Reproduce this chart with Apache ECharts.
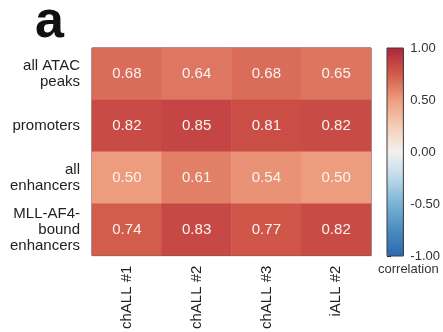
<!DOCTYPE html>
<html>
<head>
<meta charset="utf-8">
<script src="https://cdn.jsdelivr.net/npm/echarts@6/dist/echarts.min.js"></script>
<style>
  html, body { margin: 0; padding: 0; background: #fff; }
  #chart { width: 443px; height: 332px; }
</style>
</head>
<body>
<div id="chart"></div>
<script>
// Samples (columns) and genomic region sets (rows)
const samples = ['chALL #1', 'chALL #2', 'chALL #3', 'iALL #2'];
const regionSets = ['all ATAC\npeaks', 'promoters', 'all\nenhancers', 'MLL-AF4-\nbound\nenhancers'];

// Correlation per region set, one value per sample
const allAtacPeaks = [0.68, 0.64, 0.68, 0.65];
const promoters = [0.82, 0.85, 0.81, 0.82];
const allEnhancers = [0.50, 0.61, 0.54, 0.50];
const mllAf4Enhancers = [0.74, 0.83, 0.77, 0.82];

// Colour bar scale
const scaleMin = -1;
const scaleMax = 1;
const scaleStep = 0.5;

const rows = [allAtacPeaks, promoters, allEnhancers, mllAf4Enhancers];
const cells = [];
rows.forEach((vals, r) => vals.forEach((v, c) => cells.push([c, r, v])));

const font = '"Liberation Sans", Arial, Helvetica, sans-serif';
const chart = echarts.init(document.getElementById('chart'), null, { renderer: 'canvas' });

chart.setOption({
  backgroundColor: '#fff',
  animation: false,
  textStyle: { fontFamily: font },
  grid: [
    { left: 92, right: 72, top: 48, bottom: 76, show: true, borderColor: '#3a3a3a', borderWidth: 1, backgroundColor: 'transparent' },
    { left: 387, width: 17, top: 48, height: 208, show: true, borderColor: '#3a3a3a', borderWidth: 1, backgroundColor: 'transparent', z: 10 }
  ],
  xAxis: [
    {
      type: 'category', gridIndex: 0, data: samples,
      axisLine: { show: false }, axisTick: { show: false },
      axisLabel: { rotate: 90, margin: 10, color: '#222', fontSize: 15, fontFamily: font }
    },
    { type: 'value', gridIndex: 1, show: false, min: 0, max: 1 }
  ],
  yAxis: [
    {
      type: 'category', gridIndex: 0, data: regionSets, inverse: true,
      axisLine: { show: false }, axisTick: { show: false },
      axisLabel: { margin: 12, color: '#222', fontSize: 15, lineHeight: 16, align: 'right', fontFamily: font }
    },
    {
      type: 'value', gridIndex: 1, position: 'right',
      min: scaleMin, max: scaleMax, interval: scaleStep,
      splitLine: { show: false },
      axisLine: { show: false },
      axisTick: { show: true, length: 4, lineStyle: { color: '#222', width: 1 } },
      axisLabel: { margin: 7, color: '#333', fontSize: 13, fontFamily: font, formatter: v => v.toFixed(2) }
    }
  ],
  visualMap: {
    type: 'continuous',
    seriesIndex: 0,
    min: scaleMin, max: scaleMax,
    calculable: false,
    orient: 'vertical',
    left: 387, top: 48,
    itemWidth: 17, itemHeight: 208,
    padding: 0,
    text: null,
    showLabel: false,
    inRange: {
      color: ['#2c6aae', '#4a8cc0', '#7ab3d5', '#bcd9e8', '#f3f1ef', '#f5cdb6', '#ed9d7e', '#d25a4a', '#b0263a']
    }
  },
  graphic: [
    { type: 'text', left: 35, top: -3, style: { text: 'a', font: 'bold 52px ' + font, fill: '#111' } },
    { type: 'text', left: 378, top: 263, style: { text: 'correlation', font: '13px ' + font, fill: '#333' } }
  ],
  series: [{
    type: 'heatmap',
    xAxisIndex: 0, yAxisIndex: 0,
    data: cells,
    label: {
      show: true, color: '#fbf4f0', fontSize: 15, fontFamily: font,
      formatter: p => p.value[2].toFixed(2)
    },
    itemStyle: { borderWidth: 0 },
    emphasis: { disabled: true }
  }]
});
</script>
</body>
</html>
